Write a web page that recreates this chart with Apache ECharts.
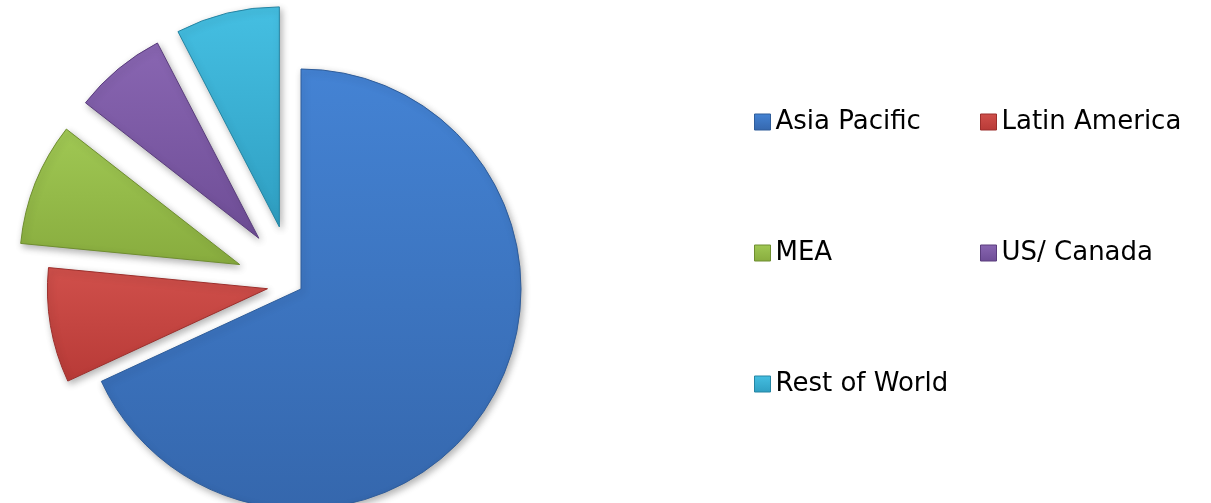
<!DOCTYPE html>
<html>
<head>
<meta charset="utf-8">
<script src="https://cdn.jsdelivr.net/npm/echarts@6/dist/echarts.min.js"></script>
<style>
html,body{margin:0;padding:0;background:#fff;}
#chart{width:1211px;height:503px;}
</style>
</head>
<body>
<div id="chart"></div>
<script>
// ---- data ----
const categories = ['Asia Pacific', 'Latin America', 'MEA', 'US/ Canada', 'Rest of World'];
const shares = [67.9, 8.4, 9.0, 6.8, 7.6];
const exploded = [false, true, true, true, true];
const legendLeftCol = ['Asia Pacific', 'MEA', 'Rest of World'];
const legendRightCol = ['Latin America', 'US/ Canada'];

// ---- styles ----
const colorTop = ['#4483d4', '#d0504b', '#a0c854', '#8966b2', '#45bfe2'];
const colorBot = ['#3567ad', '#b83a37', '#88ac3e', '#6e4d96', '#2f9fc2'];
const borderCol = ['#2f5d9a', '#9c2f2c', '#6f8e30', '#5a3d7d', '#2585a3'];

function grad(i) {
  return new echarts.graphic.LinearGradient(0, 0, 0, 1, [
    { offset: 0, color: colorTop[i] },
    { offset: 1, color: colorBot[i] }
  ]);
}

function buildData(visibleNames) {
  return categories.map((name, i) => ({
    name: name,
    value: shares[i],
    selected: exploded[i],
    itemStyle: {
      color: grad(i),
      borderColor: borderCol[i],
      borderWidth: 1,
      opacity: visibleNames.indexOf(name) >= 0 ? 1 : 0,
      shadowBlur: 7,
      shadowColor: 'rgba(0,0,0,0.3)',
      shadowOffsetX: 2,
      shadowOffsetY: 3
    }
  }));
}

const pieCommon = {
  type: 'pie',
  radius: 220,
  startAngle: 90,
  clockwise: true,
  selectedMode: 'multiple',
  label: { show: false },
  labelLine: { show: false },
  emphasis: { disabled: true },
  animation: false,
  avoidLabelOverlap: false
};

function legendItems(names) {
  return names.map(n => {
    const i = categories.indexOf(n);
    return {
      name: n,
      itemStyle: { color: grad(i), borderColor: borderCol[i], borderWidth: 1, opacity: 1, shadowBlur: 0 }
    };
  });
}

const legendCommon = {
  orient: 'vertical',
  icon: 'rect',
  itemWidth: 16,
  itemHeight: 16,
  itemGap: 99,
  padding: 0,
  selectedMode: false,
  textStyle: { fontFamily: 'DejaVu Sans', fontSize: 26, color: '#000', lineHeight: 32 }
};

const chart = echarts.init(document.getElementById('chart'), null, { renderer: 'canvas' });
chart.setOption({
  backgroundColor: '#ffffff',
  legend: [
    Object.assign({}, legendCommon, { left: 754, top: 106, data: legendItems(legendLeftCol) }),
    Object.assign({}, legendCommon, { left: 980, top: 106, data: legendItems(legendRightCol) })
  ],
  series: [
    Object.assign({}, pieCommon, {
      name: 'main',
      center: [301, 289],
      selectedOffset: 66,
      data: buildData(['Asia Pacific', 'MEA', 'US/ Canada'])
    }),
    Object.assign({}, pieCommon, {
      name: 'red',
      center: [301, 283],
      selectedOffset: 34,
      silent: true,
      data: buildData(['Latin America'])
    }),
    Object.assign({}, pieCommon, {
      name: 'cyan',
      center: [295, 291],
      selectedOffset: 66,
      silent: true,
      data: buildData(['Rest of World'])
    })
  ]
});
</script>
</body>
</html>
